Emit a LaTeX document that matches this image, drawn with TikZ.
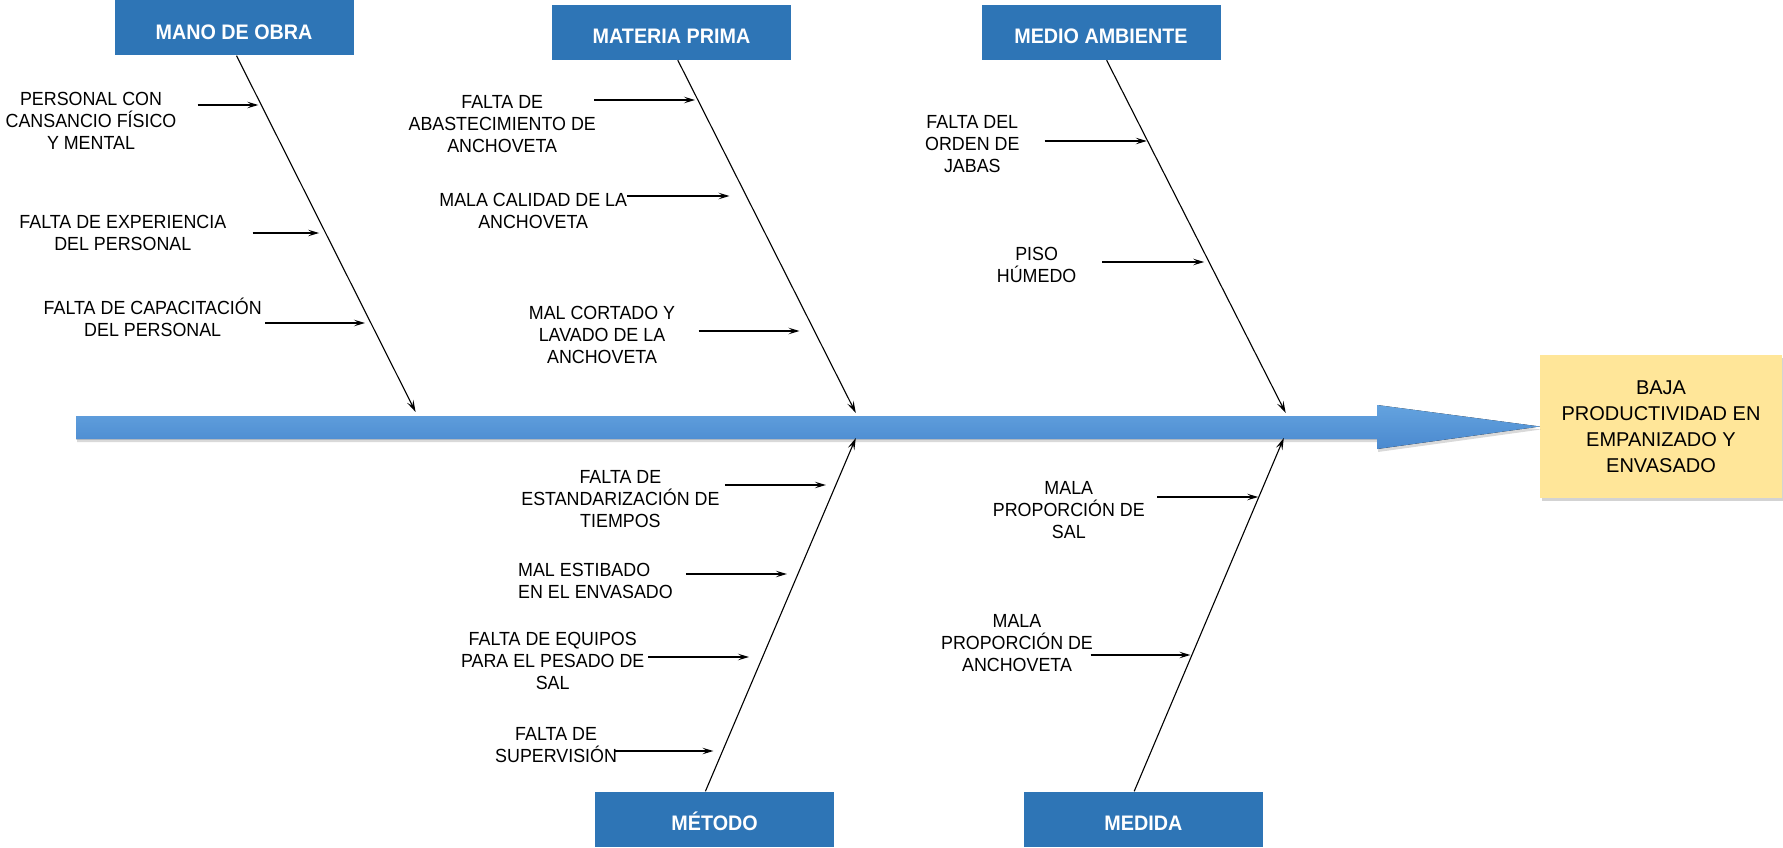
\documentclass[tikz,border=0pt]{standalone}
\usepackage{fontspec}
\setmainfont{Liberation Sans}
\newfontfamily\labelfont{Liberation Sans}[FakeStretch=0.94]
\newfontfamily\headfont{Liberation Sans}[FakeStretch=0.94]
\usetikzlibrary{arrows.meta,shadows}
\definecolor{headblue}{HTML}{2E75B6}
\definecolor{spinetop}{HTML}{64A3DF}
\definecolor{spinebot}{HTML}{4A89CF}
\definecolor{effectfill}{HTML}{FFE699}

\begin{document}
\begin{tikzpicture}[x=1pt,y=-1pt,
  header/.style={fill=headblue, minimum width=239pt, minimum height=55pt,
    inner sep=0pt, text=white, text height=23pt, text depth=0pt,
    font=\headfont\bfseries\fontsize{21}{24}\selectfont},
  cause/.style={align=center, inner sep=0pt,
    font=\labelfont\fontsize{19}{22}\selectfont},
  effect/.style={fill=effectfill, minimum width=242pt, minimum height=143pt,
    inner sep=0pt, align=center, font=\fontsize{20}{26}\selectfont,
    drop shadow={opacity=0.35, shadow xshift=2pt, shadow yshift=-3pt}},
  bone/.style={line width=1.1pt, -{Stealth[length=12pt,width=7pt,inset=5pt]}},
  twig/.style={line width=1.2pt, -{Stealth[length=11pt,width=6.5pt,inset=4.5pt]}},
]
\useasboundingbox (0,0) rectangle (1783,848);

% category headers
\node[header] (mano)    at (234,28)     {MANO DE OBRA};
\node[header] (materia) at (671.5,32.5) {MATERIA PRIMA};
\node[header] (medio)   at (1101,32.5)  {MEDIO AMBIENTE};
\node[header] (metodo)  at (714.6,819)  {MÉTODO};
\node[header] (medida)  at (1143.4,819) {MEDIDA};

% effect box
\node[effect] (eff) at (1661,426.5)
  {BAJA\\PRODUCTIVIDAD EN\\EMPANIZADO Y\\ENVASADO};

% main spine arrow
\fill[top color=spinetop, bottom color=spinebot,
      drop shadow={opacity=0.3, shadow xshift=1pt, shadow yshift=-3pt}]
  (76,416) -- (1377,416) -- (1377,405) -- (eff.west)
  -- (1377,449) -- (1377,439) -- (76,439) -- cycle;

% bone ends on the spine
\coordinate (b1) at (415.6,412);
\coordinate (b2) at (855.8,413);
\coordinate (b3) at (1285.7,413);
\coordinate (b4) at (855.8,438);
\coordinate (b5) at (1283.8,438);

\draw[bone] ([xshift=2.5pt]mano.south)     -- (b1);
\draw[bone] ([xshift=6.3pt]materia.south)  -- (b2);
\draw[bone] ([xshift=5.6pt]medio.south)    -- (b3);
\draw[bone] ([xshift=-9.2pt]metodo.north)  -- (b4);
\draw[bone] ([xshift=-9.2pt]medida.north)  -- (b5);

% causes
\node[cause] (c1)  at (91,121)    {PERSONAL CON\\CANSANCIO FÍSICO\\Y MENTAL};
\node[cause] (c2)  at (122.8,233) {FALTA DE EXPERIENCIA\\DEL PERSONAL};
\node[cause] (c3)  at (152.7,317) {FALTA DE CAPACITACIÓN\\DEL PERSONAL};
\node[cause] (c4)  at (502.2,124) {FALTA DE\\ABASTECIMIENTO DE\\ANCHOVETA};
\node[cause] (c5)  at (533.2,211) {MALA CALIDAD DE LA\\ANCHOVETA};
\node[cause] (c6)  at (602,335)   {MAL CORTADO Y\\LAVADO DE LA\\ANCHOVETA};
\node[cause] (c7)  at (972.3,144) {FALTA DEL\\ORDEN DE\\JABAS};
\node[cause] (c8)  at (1036.6,265) {PISO\\HÚMEDO};
\node[cause] (c9)  at (620.4,499) {FALTA DE\\ESTANDARIZACIÓN DE\\TIEMPOS};
\node[cause, align=left, anchor=west] (c10) at (518,581) {MAL ESTIBADO\\EN EL ENVASADO};
\node[cause] (c11) at (552.7,661) {FALTA DE EQUIPOS\\PARA EL PESADO DE\\SAL};
\node[cause] (c12) at (556.1,745) {FALTA DE\\SUPERVISIÓN};
\node[cause] (c13) at (1068.8,510) {MALA\\PROPORCIÓN DE\\SAL};
\node[cause] (c14) at (1017,643)  {MALA\\PROPORCIÓN DE\\ANCHOVETA};

% cause arrows: start and end points
\coordinate (s1)  at (197.5,105);  \coordinate (e1)  at (258.3,105);
\coordinate (s2)  at (252.6,233);  \coordinate (e2)  at (319.1,233);
\coordinate (s3)  at (265.2,323);  \coordinate (e3)  at (365,323);
\coordinate (s4)  at (594,100);    \coordinate (e4)  at (695,100);
\coordinate (s5)  at (627.3,196);  \coordinate (e5)  at (729.5,196);
\coordinate (s6)  at (698.5,331);  \coordinate (e6)  at (799.5,331);
\coordinate (s7)  at (1044.6,141); \coordinate (e7)  at (1146.8,141);
\coordinate (s8)  at (1102,262);   \coordinate (e8)  at (1204.2,262);
\coordinate (s9)  at (724.9,485);  \coordinate (e9)  at (825.9,485);
\coordinate (s10) at (685.9,574);  \coordinate (e10) at (786.9,574);
\coordinate (s11) at (648,657);    \coordinate (e11) at (749,657);
\coordinate (s12) at (614.7,751);  \coordinate (e12) at (713.4,751);
\coordinate (s13) at (1157.2,497); \coordinate (e13) at (1258.2,497);
\coordinate (s14) at (1090.6,655); \coordinate (e14) at (1190.4,655);

\foreach \i in {1,...,14} \draw[twig] (s\i) -- (e\i);

\end{tikzpicture}
\end{document}
